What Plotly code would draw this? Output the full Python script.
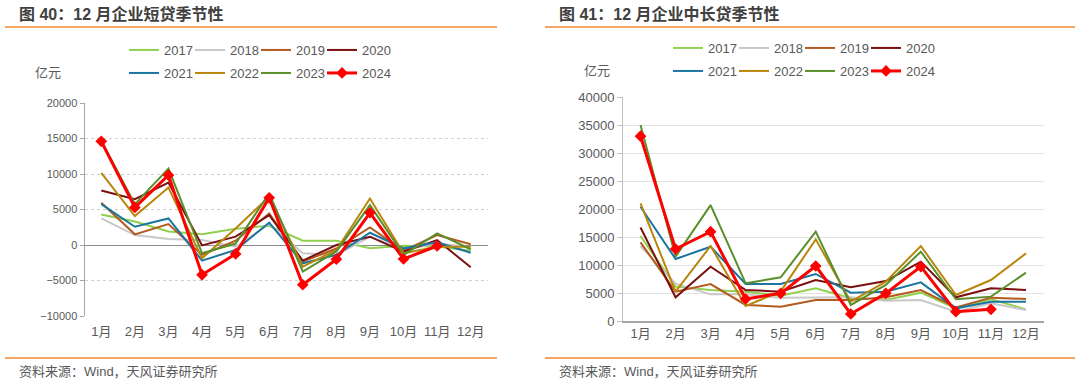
import plotly.graph_objects as go

months = ["1月", "2月", "3月", "4月", "5月", "6月", "7月", "8月", "9月", "10月", "11月", "12月"]
years = ["2017", "2018", "2019", "2020", "2021", "2022", "2023", "2024"]
colors = ["#92D050", "#C8C8C8", "#B35A1F", "#7B1010", "#1B75A0", "#B8860B", "#5A8F2C", "#FF0000"]

# 企业短贷 (亿元)
short_2017 = [4300, 3300, 1900, 1500, 2300, 2700, 600, 600, -470, -100, -200, -800]
short_2018 = [3750, 1400, 850, 700, -250, 2950, -1170, -1400, 1170, -700, 230, -300]
short_2019 = [5950, 1500, 2950, -1400, 600, 4450, -2340, -500, 2480, -800, 1400, 100]
short_2020 = [7680, 6460, 8800, -50, 1170, 4210, -2200, 0, 1170, -940, 700, -3140]
short_2021 = [5760, 2575, 3745, -2200, -700, 3140, -2575, -1400, 1730, -470, 370, -1080]
short_2022 = [10160, 4070, 8100, -1870, 2340, 6800, -3040, -700, 6550, -1170, -230, -230]
short_2023 = [14700, 5760, 10770, -1170, 200, 7260, -3750, -900, 5620, -1400, 1640, -600]
short_2024 = [14600, 5290, 9830, -4200, -1260, 6650, -5600, -2000, 4540, -1970, -140]

# 企业中长贷 (亿元)
long_2017 = [15180, 6130, 5540, 5240, 4520, 5830, 4050, 3750, 5060, 2260, 3870, 2080]
long_2018 = [13400, 6670, 4760, 4760, 4170, 4170, 4230, 3630, 3750, 1670, 3150, 1960]
long_2019 = [14050, 5240, 6600, 2860, 2560, 3750, 3750, 4230, 5540, 2440, 4170, 3930]
long_2020 = [16700, 4230, 9700, 5540, 5240, 7320, 6010, 7140, 10600, 4230, 5830, 5540]
long_2021 = [20400, 11070, 13270, 6600, 6600, 8400, 5060, 5240, 6900, 2260, 3450, 3450]
long_2022 = [21000, 5240, 13400, 2680, 5300, 14580, 3450, 7020, 13400, 4640, 7320, 12080]
long_2023 = [35000, 11500, 20700, 6730, 7800, 15950, 2860, 6430, 12380, 3870, 4350, 8630]
long_2024 = [33000, 12860, 15950, 3930, 4940, 9820, 1250, 4940, 9700, 1670, 2080]

short_series = [short_2017, short_2018, short_2019, short_2020, short_2021, short_2022, short_2023, short_2024]
long_series = [long_2017, long_2018, long_2019, long_2020, long_2021, long_2022, long_2023, long_2024]

left_ticks = [-10000, -5000, 0, 5000, 10000, 15000, 20000]
right_ticks = [0, 5000, 10000, 15000, 20000, 25000, 30000, 35000, 40000]

W, H = 1080, 383
FONT = "Liberation Sans, Noto Sans CJK SC, sans-serif"
GREY = "#595959"
ORANGE = "#F0892E"

fig = go.Figure()

def add_series(series_list, xa, ya, leg_a, leg_b):
    for i, (yr, col) in enumerate(zip(years, colors)):
        is24 = yr == "2024"
        last_in_row = i in (3, 7)
        fig.add_trace(go.Scatter(
            x=months[:len(series_list[i])], y=series_list[i], name=yr,
            mode="lines+markers" if is24 else "lines",
            line=dict(color=col, width=3 if is24 else 2),
            marker=dict(symbol="diamond", size=9, color=col) if is24 else None,
            xaxis=xa, yaxis=ya,
            legend=leg_a if i < 4 else leg_b,
            legendwidth=40 if last_in_row else None,
        ))

add_series(short_series, "x", "y", "legend", "legend2")
add_series(long_series, "x2", "y2", "legend3", "legend4")

def px_x(v):
    return v / W

def px_y(v):
    return 1 - v / H

leg_common = dict(orientation="h", xanchor="left", yanchor="middle",
                  font=dict(family=FONT, size=13, color=GREY),
                  bgcolor="rgba(0,0,0,0)", entrywidth=21, itemwidth=30,
                  tracegroupgap=0)

fig.update_layout(
    width=W, height=H,
    margin=dict(l=0, r=0, t=0, b=0, autoexpand=False),
    paper_bgcolor="white", plot_bgcolor="white",
    font=dict(family=FONT, size=13, color=GREY),
    showlegend=True,
    legend=dict(x=px_x(124), y=px_y(50), **leg_common),
    legend2=dict(x=px_x(124), y=px_y(73), **leg_common),
    legend3=dict(x=px_x(668), y=px_y(48), **leg_common),
    legend4=dict(x=px_x(668), y=px_y(71), **leg_common),
    xaxis=dict(domain=[px_x(84.5), px_x(487.5)], anchor="y", type="category",
               range=[-0.5, 11.5], showgrid=False, showline=False, ticks="",
               ticklabelstandoff=6,
               tickfont=dict(size=13, color=GREY), zeroline=False),
    yaxis=dict(domain=[px_y(316), px_y(103)], anchor="x", range=[-10000, 20000],
               tickvals=left_ticks, tickformat="d", showline=True, linecolor="#A6A6A6", linewidth=1,
               ticks="outside", ticklen=4, tickcolor="#A6A6A6",
               showgrid=True, gridcolor="#CFCFCF", griddash="dot", gridwidth=1,
               zeroline=True, zerolinecolor="#8C8C8C", zerolinewidth=1,
               tickfont=dict(size=11, color=GREY)),
    xaxis2=dict(domain=[px_x(623), px_x(1043.5)], anchor="y2", type="category",
                range=[-0.5, 11.5], showgrid=False, showline=True,
                linecolor="#A6A6A6", linewidth=1.5, ticks="",
                tickfont=dict(size=13, color=GREY), zeroline=False),
    yaxis2=dict(domain=[px_y(321), px_y(97)], anchor="x2", range=[0, 40000],
                tickvals=right_ticks, tickformat="d", showline=True, linecolor="#BFBFBF", linewidth=1,
                ticks="outside", ticklen=5, tickcolor="#BFBFBF",
                showgrid=True, gridcolor="#E3E3E3", gridwidth=1,
                zeroline=False, tickfont=dict(size=13, color=GREY)),
)

# frame lines (orange rules)
for x0, x1 in [(5, 497), (545, 1075)]:
    for yy in [27, 358]:
        fig.add_shape(type="line", xref="paper", yref="paper",
                      x0=px_x(x0), x1=px_x(x1), y0=px_y(yy), y1=px_y(yy),
                      line=dict(color=ORANGE, width=1.5))

annos = [
    ("<b>图 40：12 月企业短贷季节性</b>", 17, 14, 16, "#404040"),
    ("<b>图 41：12 月企业中长贷季节性</b>", 557, 14, 16, "#404040"),
    ("资料来源：Wind，天风证券研究所", 17, 371, 13, GREY),
    ("资料来源：Wind，天风证券研究所", 557, 371, 13, GREY),
    ("亿元", 33, 73, 13, GREY),
    ("亿元", 582, 70, 13, GREY),
]
for text, x, y, size, col in annos:
    fig.add_annotation(text=text, xref="paper", yref="paper", x=px_x(x), y=px_y(y),
                       xanchor="left", yanchor="middle", showarrow=False,
                       font=dict(family=FONT, size=size, color=col))

# remove the default 8px page margin so the figure sits at the window origin
fig.write_html("out.html", config={"displayModeBar": False},
               post_script="document.body.style.margin='0';")
